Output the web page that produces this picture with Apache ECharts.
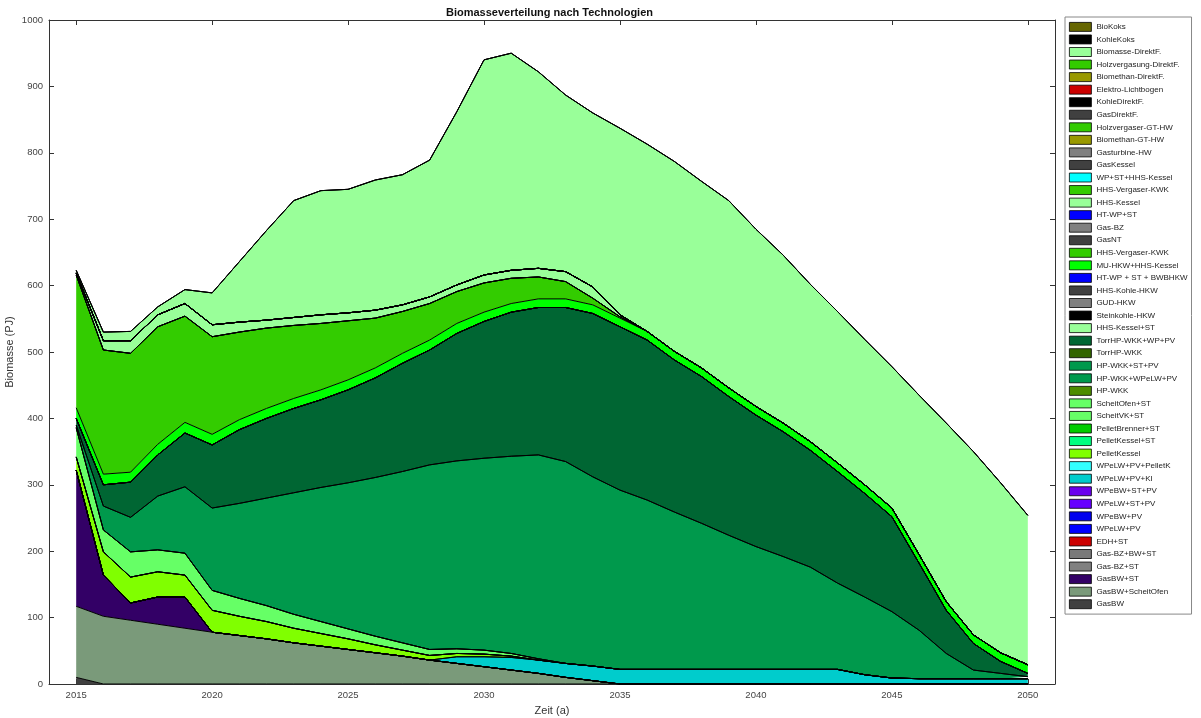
<!DOCTYPE html>
<html>
<head>
<meta charset="utf-8">
<title>Biomasseverteilung nach Technologien</title>
<script src="https://cdn.jsdelivr.net/npm/echarts@6/dist/echarts.min.js"></script>
<style>
  html, body { margin: 0; padding: 0; background: #fff; }
  #main { width: 1201px; height: 718px; }
</style>
</head>
<body>
<div id="main"></div>
<script>
// Jahre (a)
const years = [2015, 2016, 2017, 2018, 2019, 2020, 2021, 2022, 2023, 2024, 2025, 2026,
  2027, 2028, 2029, 2030, 2031, 2032, 2033, 2034, 2035, 2036, 2037, 2038,
  2039, 2040, 2041, 2042, 2043, 2044, 2045, 2046, 2047, 2048, 2049, 2050];
const tickYears = [2015, 2020, 2025, 2030, 2035, 2040, 2045, 2050];

// Biomasse je Technologie (PJ)
const none = [0, 0, 0, 0, 0, 0, 0, 0, 0, 0, 0, 0, 0, 0, 0, 0, 0, 0,
  0, 0, 0, 0, 0, 0, 0, 0, 0, 0, 0, 0, 0, 0, 0, 0, 0, 0];
const gasBW = [10, 0, 0, 0, 0, 0, 0, 0, 0, 0, 0, 0, 0, 0, 0, 0, 0, 0,
  0, 0, 0, 0, 0, 0, 0, 0, 0, 0, 0, 0, 0, 0, 0, 0, 0, 0];
const gasBWScheitOfen = [107, 102, 96, 90, 84, 78, 73, 68, 62, 57, 52, 47, 42, 36, 31, 26, 21, 16,
  10, 5, 0, 0, 0, 0, 0, 0, 0, 0, 0, 0, 0, 0, 0, 0, 0, 0];
const gasBWST = [205, 62, 26, 41, 47, 0, 0, 0, 0, 0, 0, 0, 0, 0, 0, 0, 0, 0,
  0, 0, 0, 0, 0, 0, 0, 0, 0, 0, 0, 0, 0, 0, 0, 0, 0, 0];
const wpeLWPVKI = [0, 0, 0, 0, 0, 0, 0, 0, 0, 0, 0, 0, 0, 0, 10, 15, 19, 20,
  21, 22, 22, 22, 22, 22, 22, 22, 22, 22, 22, 14, 9, 8, 8, 8, 8, 8];
const pelletKessel = [20, 35, 39, 38, 33, 33, 29, 26, 22, 19, 16, 12, 9, 7, 5, 4, 2, 0,
  0, 0, 0, 0, 0, 0, 0, 0, 0, 0, 0, 0, 0, 0, 0, 0, 0, 0];
const scheitOfenST = [44, 33, 38, 33, 33, 30, 27, 24, 21, 18, 15, 13, 11, 9, 7, 6, 4, 2,
  0, 0, 0, 0, 0, 0, 0, 0, 0, 0, 0, 0, 0, 0, 0, 0, 0, 0];
const hpWKKSTPV = [4, 36, 52, 81, 100, 124, 143, 162, 183, 202, 220, 239, 258, 278, 283, 289, 297, 307,
  304, 285, 270, 255, 237, 220, 202, 185, 170, 154, 130, 117, 100, 73, 38, 13, 8, 3];
const torrHPWKKWPPV = [10, 32, 53, 62, 81, 95, 111, 120, 127, 132, 140, 150, 163, 173, 192, 206, 217, 222,
  232, 246, 246, 241, 229, 221, 209, 198, 188, 176, 168, 156, 143, 101, 65, 40, 18, 5];
const muHKWHHSKessel = [16, 16, 15, 16, 16, 16, 15, 15, 15, 15, 15, 15, 15, 15, 15, 14, 13, 13,
  13, 13, 13, 13, 13, 13, 13, 13, 13, 13, 13, 13, 13, 13, 13, 13, 13, 13];
const hhsVergaserKWK = [200, 187, 179, 177, 160, 147, 132, 121, 110, 100, 89, 75, 63, 55, 48, 44, 38, 33,
  26, 10, 2, 0, 0, 0, 0, 0, 0, 0, 0, 0, 0, 0, 0, 0, 0, 0];
const hhsKessel = [3, 14, 19, 18, 19, 18, 15, 12, 12, 13, 12, 12, 10, 10, 10, 12, 12, 13,
  15, 17, 3, 0, 0, 0, 0, 0, 0, 0, 0, 0, 0, 0, 0, 0, 0, 0];
const biomasseDirektF = [4, 13, 14, 12, 21, 48, 91, 135, 176, 187, 186, 196, 196, 206, 261, 324, 327, 296,
  266, 262, 281, 282, 286, 281, 282, 267, 253, 237, 228, 219, 213, 240, 269, 276, 256, 225];

// Reihenfolge von unten nach oben: [Name, Farbe, Werte]
const layers = [
  ['GasBW', '#404040', gasBW],
  ['GasBW+ScheitOfen', '#7a9a7a', gasBWScheitOfen],
  ['GasBW+ST', '#330066', gasBWST],
  ['Gas-BZ+ST', '#808080', none],
  ['Gas-BZ+BW+ST', '#7a7a7a', none],
  ['EDH+ST', '#cc0000', none],
  ['WPeLW+PV', '#0000ff', none],
  ['WPeBW+PV', '#0000ee', none],
  ['WPeLW+ST+PV', '#6600ff', none],
  ['WPeBW+ST+PV', '#6a00ee', none],
  ['WPeLW+PV+KI', '#00cccc', wpeLWPVKI],
  ['WPeLW+PV+PelletK', '#33ffff', none],
  ['PelletKessel', '#80ff00', pelletKessel],
  ['PelletKessel+ST', '#00ff80', none],
  ['PelletBrenner+ST', '#00cc00', none],
  ['ScheitVK+ST', '#66ff66', none],
  ['ScheitOfen+ST', '#66ff66', scheitOfenST],
  ['HP-WKK', '#4d8c00', none],
  ['HP-WKK+WPeLW+PV', '#00994c', none],
  ['HP-WKK+ST+PV', '#00994c', hpWKKSTPV],
  ['TorrHP-WKK', '#336600', none],
  ['TorrHP-WKK+WP+PV', '#006633', torrHPWKKWPPV],
  ['HHS-Kessel+ST', '#99ff99', none],
  ['Steinkohle-HKW', '#000000', none],
  ['GUD-HKW', '#808080', none],
  ['HHS-Kohle-HKW', '#404040', none],
  ['HT-WP + ST + BWBHKW', '#0000ff', none],
  ['MU-HKW+HHS-Kessel', '#00ff00', muHKWHHSKessel],
  ['HHS-Vergaser-KWK', '#33cc00', hhsVergaserKWK],
  ['GasNT', '#404040', none],
  ['Gas-BZ', '#808080', none],
  ['HT-WP+ST', '#0000ff', none],
  ['HHS-Kessel', '#99ff99', hhsKessel],
  ['HHS-Vergaser-KWK ', '#33cc00', none],
  ['WP+ST+HHS-Kessel', '#00ffff', none],
  ['GasKessel', '#404040', none],
  ['Gasturbine-HW', '#808080', none],
  ['Biomethan-GT-HW', '#999900', none],
  ['Holzvergaser-GT-HW', '#33cc00', none],
  ['GasDirektF.', '#404040', none],
  ['KohleDirektF.', '#000000', none],
  ['Elektro-Lichtbogen', '#cc0000', none],
  ['Biomethan-DirektF.', '#999900', none],
  ['Holzvergasung-DirektF.', '#33cc00', none],
  ['Biomasse-DirektF.', '#99ff99', biomasseDirektF],
  ['KohleKoks', '#000000', none],
  ['BioKoks', '#666600', none]
];

const axisColor = '#333';
const font = 'Liberation Sans, Arial, sans-serif';

// Kategorieachse mit je einem leeren Jahr links und rechts (wie die Achsgrenzen im Original)
const axisYears = [String(years[0] - 1)].concat(years.map(String), [String(years[years.length - 1] + 1)]);
const isTickYear = (index, value) => tickYears.indexOf(Number(value)) >= 0;

let myChart = echarts.init(document.getElementById('main'));

let series = layers.map(([name, color, values]) => ({
  name: name,
  type: 'line',
  stack: 'total',
  stackStrategy: 'all',
  symbol: 'none',
  silent: true,
  itemStyle: { color: color },
  lineStyle: { color: '#000', width: 1 },
  areaStyle: { color: color, opacity: 1 },
  data: [null].concat(values, [null])
}));

let option = {
  animation: false,
  backgroundColor: '#fff',
  title: {
    text: 'Biomasseverteilung nach Technologien',
    left: 441,
    top: 2,
    textStyle: { fontSize: 11, fontWeight: 'bold', color: '#111', fontFamily: font }
  },
  legend: {
    orient: 'vertical',
    left: 1065,
    top: 17,
    padding: [5, 4, 5, 4],
    itemWidth: 22,
    itemHeight: 9,
    itemGap: 2.75,
    icon: 'rect',
    selectedMode: false,
    borderColor: '#888',
    borderWidth: 1,
    backgroundColor: '#fff',
    itemStyle: { borderColor: '#000', borderWidth: 0.8 },
    textStyle: { fontSize: 8, lineHeight: 9, color: '#222', fontFamily: font },
    data: layers.map(l => l[0]).reverse()
  },
  grid: { left: 49, top: 20, width: 1006, height: 664, containLabel: false, outerBoundsMode: 'none' },
  xAxis: [
    {
      type: 'category',
      data: axisYears,
      boundaryGap: false,
      name: 'Zeit (a)',
      nameLocation: 'middle',
      nameGap: 21,
      nameMoveOverlap: false,
      nameTextStyle: { fontSize: 11, color: '#333', fontFamily: font },
      axisLine: { show: true, onZero: false, lineStyle: { color: axisColor, width: 1 } },
      axisTick: { show: true, inside: true, length: 5, interval: isTickYear, lineStyle: { color: axisColor } },
      axisLabel: { interval: isTickYear, fontSize: 9.5, color: '#444', margin: 6, fontFamily: font },
      splitLine: { show: false }
    },
    {
      type: 'category',
      data: axisYears,
      boundaryGap: false,
      position: 'top',
      axisLine: { show: true, onZero: false, lineStyle: { color: axisColor, width: 1 } },
      axisTick: { show: true, inside: true, length: 5, interval: isTickYear, lineStyle: { color: axisColor } },
      axisLabel: { show: false },
      splitLine: { show: false }
    }
  ],
  yAxis: [
    {
      type: 'value',
      min: 0,
      max: 1000,
      interval: 100,
      name: 'Biomasse (PJ)',
      nameLocation: 'middle',
      nameGap: 34,
      nameMoveOverlap: false,
      nameTextStyle: { fontSize: 11, color: '#333', fontFamily: font },
      axisLine: { show: true, onZero: false, lineStyle: { color: axisColor, width: 1 } },
      axisTick: { show: true, inside: true, length: 5, lineStyle: { color: axisColor } },
      axisLabel: { fontSize: 9.5, color: '#444', margin: 6, fontFamily: font, formatter: v => String(v) },
      splitLine: { show: false }
    },
    {
      type: 'value',
      position: 'right',
      min: 0,
      max: 1000,
      interval: 100,
      axisLine: { show: true, onZero: false, lineStyle: { color: axisColor, width: 1 } },
      axisTick: { show: true, inside: true, length: 5, lineStyle: { color: axisColor } },
      axisLabel: { show: false },
      splitLine: { show: false }
    }
  ],
  series: series
};

myChart.setOption(option);
</script>
</body>
</html>
